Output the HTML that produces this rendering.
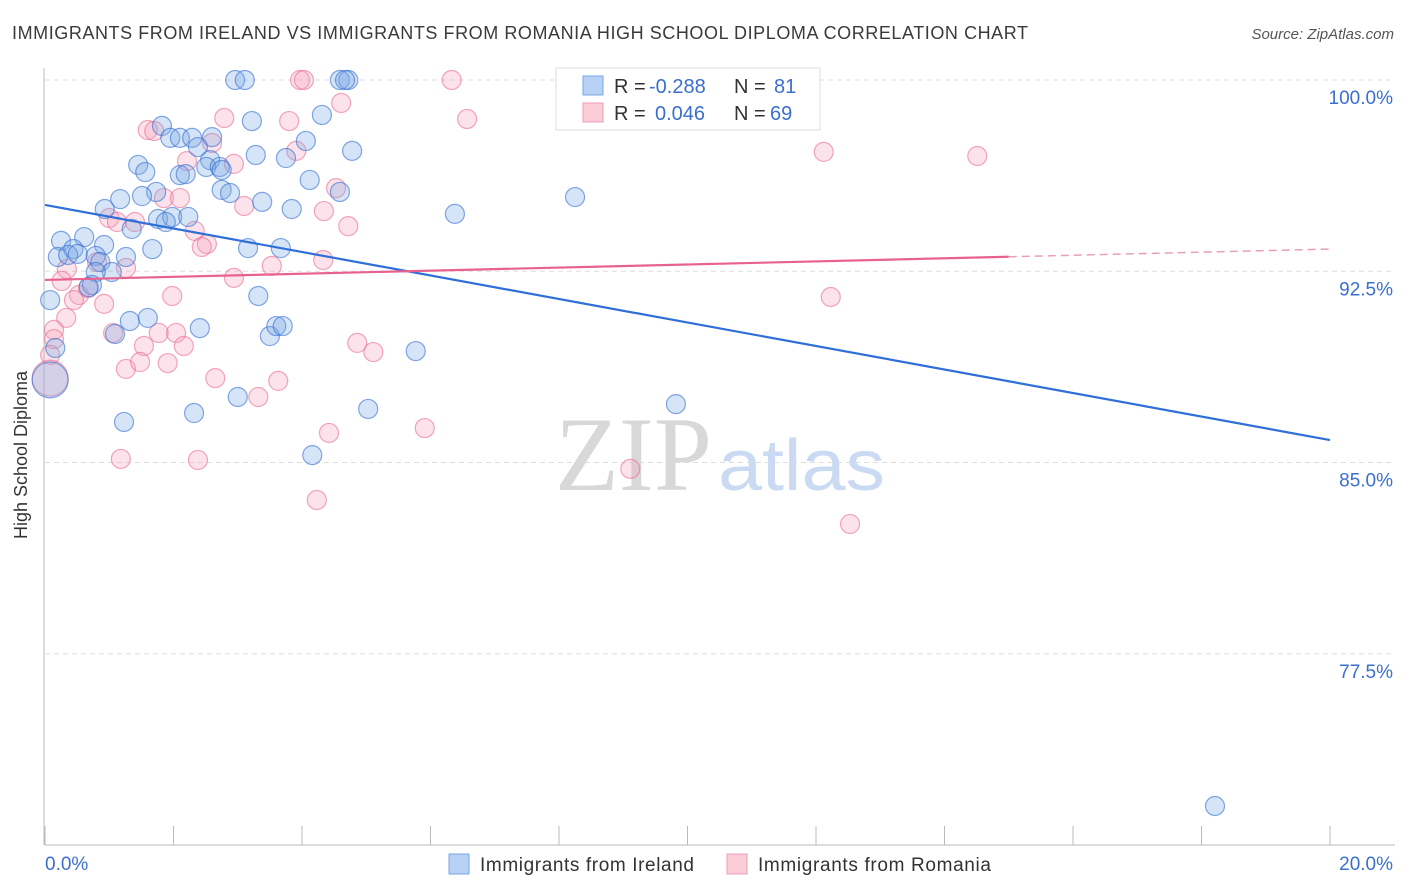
<!DOCTYPE html>
<html><head><meta charset="utf-8"><style>
body{margin:0;background:#fff;font-family:"Liberation Sans",sans-serif;}
#wrap{position:relative;width:1406px;height:892px;overflow:hidden;}
</style></head><body>
<div id="wrap">
<svg id="chart" width="1406" height="892" style="position:absolute;left:0;top:0">
<text x="12" y="39" font-size="18" fill="#3a3a3a" textLength="1016" lengthAdjust="spacing">IMMIGRANTS FROM IRELAND VS IMMIGRANTS FROM ROMANIA HIGH SCHOOL DIPLOMA CORRELATION CHART</text>
<text x="1394" y="39" font-size="15" fill="#555" font-style="italic" text-anchor="end">Source: ZipAtlas.com</text>
<g id="grid"></g>
<text x="555" y="490" font-size="106" fill="#d8d8d8" font-family="Liberation Serif, serif" textLength="157" lengthAdjust="spacingAndGlyphs">ZIP</text>
<text x="718" y="490" font-size="72" fill="#c9daf2" textLength="167" lengthAdjust="spacingAndGlyphs">atlas</text>
<g id="axes"></g>
<g id="pts"></g>
<g id="trends"></g>
<text x="27" y="455" font-size="18" fill="#333" text-anchor="middle" transform="rotate(-90 27 455)">High School Diploma</text>
<g>
<rect x="556" y="68" width="264" height="62" fill="#fff" stroke="#ddd"/>
<rect x="583" y="76" width="20" height="19" fill="#b8d2f5" stroke="#7aa6e6"/>
<rect x="583" y="103" width="20" height="19" fill="#fbcbd8" stroke="#ee9fb6"/>
<text x="614" y="93" font-size="20" fill="#333">R = <tspan x="649" fill="#3a6fd0">-0.288</tspan></text>
<text x="734" y="93" font-size="20" fill="#333">N = <tspan x="774" fill="#3a6fd0">81</tspan></text>
<text x="614" y="120" font-size="20" fill="#333">R = <tspan x="655" fill="#3a6fd0">0.046</tspan></text>
<text x="734" y="120" font-size="20" fill="#333">N = <tspan x="770" fill="#3a6fd0">69</tspan></text>
</g>
<g>
<rect x="449" y="854" width="20" height="20" fill="#b8d2f5" stroke="#7aa6e6"/>
<text x="480" y="871" font-size="19" fill="#333" textLength="214" lengthAdjust="spacing">Immigrants from Ireland</text>
<rect x="727" y="854" width="20" height="20" fill="#fbcbd8" stroke="#ee9fb6"/>
<text x="758" y="871" font-size="19" fill="#333" textLength="233" lengthAdjust="spacing">Immigrants from Romania</text>
</g>
</svg>
</div>
<script>
const xTicks=[0,2,4,6,8,10,12,14,16,18,20];
const yTicks=[100,92.5,85,77.5];
const yTickLabels=["100.0%","92.5%","85.0%","77.5%"];
const xEndLabels=["0.0%","20.0%"];
const irelandX=[2.96,3.11,4.59,4.72,4.67,4.31,3.22,1.82,1.95,2.10,2.29,2.60,2.38,4.06,3.28,3.75,4.78,1.45,1.56,2.10,2.19,2.57,2.51,2.72,2.75,1.73,1.51,1.17,2.75,2.88,4.12,4.59,3.38,3.84,0.93,1.35,1.76,1.98,2.23,1.88,6.38,8.25,0.25,0.61,0.44,0.92,1.67,0.20,0.36,0.51,0.79,1.26,0.86,3.16,3.67,1.04,0.79,0.73,0.68,0.08,3.32,1.60,1.32,1.09,2.41,3.50,3.60,3.70,5.77,0.16,3.00,5.03,2.32,1.23,4.16,9.82,11.16,18.21,0.08];
const irelandY=[100,100,100,100,100,98.63,98.39,98.20,97.73,97.73,97.73,97.76,97.37,97.61,97.06,96.94,97.22,96.67,96.39,96.27,96.31,96.86,96.59,96.59,96.47,95.61,95.45,95.33,95.69,95.57,96.08,95.61,95.22,94.94,94.94,94.16,94.55,94.63,94.63,94.43,94.75,95.41,93.69,93.84,93.37,93.53,93.37,93.06,93.14,93.18,93.10,93.06,92.86,93.41,93.41,92.47,92.47,91.96,91.88,91.37,91.53,90.67,90.55,90.04,90.27,89.96,90.35,90.35,89.37,89.49,87.57,87.10,86.94,86.59,85.29,87.29,98.43,71.53,88.24];
const romaniaX=[3.97,4.03,6.33,4.61,2.79,3.80,6.57,1.60,1.70,2.60,2.21,2.94,3.91,1.85,2.10,3.10,4.34,4.72,4.53,1.00,1.12,1.40,2.33,2.52,2.44,3.53,4.33,2.94,1.26,0.81,0.34,0.26,0.53,0.45,0.67,1.98,0.92,0.33,0.14,0.14,1.06,1.77,2.04,2.16,1.54,1.26,1.48,1.91,4.86,5.11,2.65,3.63,3.32,4.42,5.91,1.18,2.38,4.23,9.11,12.53,12.23,12.12,14.51,0.08,0.08];
const romaniaY=[100,100,100,99.10,98.51,98.39,98.47,98.04,98.00,97.53,96.82,96.71,97.22,95.37,95.37,95.06,94.86,94.27,95.76,94.59,94.43,94.43,94.08,93.57,93.45,92.71,92.94,92.24,92.63,92.86,92.59,92.12,91.57,91.37,91.84,91.53,91.22,90.67,90.20,89.84,90.08,90.08,90.08,89.57,89.57,88.67,88.94,88.90,89.69,89.33,88.31,88.20,87.57,86.16,86.35,85.14,85.10,83.53,84.75,82.59,91.49,97.18,97.02,89.22,88.31];
const irelandTrend=[95.10,85.88];
const romaniaTrend=[92.16,93.37];
const romaniaSolidEnd=15.0;

const NS="http://www.w3.org/2000/svg";
const X=v=>45+v/20*1285;
const Y=v=>80+(100-v)/30*765;
function mk(tag,attrs,parent){const e=document.createElementNS(NS,tag);for(const k in attrs)e.setAttribute(k,attrs[k]);parent.appendChild(e);return e;}
const grid=document.getElementById('grid'),axes=document.getElementById('axes'),pts=document.getElementById('pts'),tr=document.getElementById('trends');
yTicks.forEach((t,i)=>{
  const l=mk('line',{x1:45,x2:1395,y1:Y(t),y2:Y(t),stroke:'#ddd','stroke-dasharray':'5,4'},grid);
  
  
  const tx=mk('text',{x:1393,y:Y(t)+24,'font-size':19,fill:'#3a6fd0','text-anchor':'end'},axes);
  tx.textContent=yTickLabels[i];
  
  
});
const ya=mk('line',{x1:44,x2:44,y1:68,y2:845,stroke:'#bbb'},axes);


const xa=mk('line',{x1:45,x2:1395,y1:845,y2:845,stroke:'#bbb'},axes);


xTicks.forEach(t=>{
  const l=mk('line',{x1:X(t),x2:X(t),y1:826,y2:845,stroke:'#bbb'},axes);
  
  
});
[[0,'start',45],[1,'end',1393]].forEach(([i,a,x])=>{
  const tx=mk('text',{x:x,y:870,'font-size':19,fill:'#3a6fd0','text-anchor':a},axes);
  tx.textContent=xEndLabels[i];
  
  
});
function series(xs,ys,fill,stroke,name){
  xs.forEach((x,i)=>{
    const big=(i===xs.length-1);
    const c=mk('circle',{cx:X(x),cy:Y(ys[i]),r:big?18:9.5,fill:fill,stroke:stroke,'stroke-width':1.2},pts);
    
    
  });
}
series(romaniaX,romaniaY,'rgba(244,160,185,0.3)','rgba(232,110,145,0.6)','point-romania');
series(irelandX,irelandY,'rgba(120,165,230,0.3)','rgba(50,110,210,0.6)','point-ireland');
const bl=mk('line',{x1:X(0),y1:Y(irelandTrend[0]),x2:X(20),y2:Y(irelandTrend[1]),stroke:'#2f6fd8','stroke-width':2.2},tr);


const pm=romaniaTrend[0]+(romaniaTrend[1]-romaniaTrend[0])*romaniaSolidEnd/20;
const pl=mk('line',{x1:X(0),y1:Y(romaniaTrend[0]),x2:X(romaniaSolidEnd),y2:Y(pm),stroke:'#e8628e','stroke-width':2.2},tr);


const pd=mk('line',{x1:X(romaniaSolidEnd),y1:Y(pm),x2:X(20),y2:Y(romaniaTrend[1]),stroke:'#e8a0b8','stroke-width':1.5,'stroke-dasharray':'8,5'},tr);


</script>
</body></html>
